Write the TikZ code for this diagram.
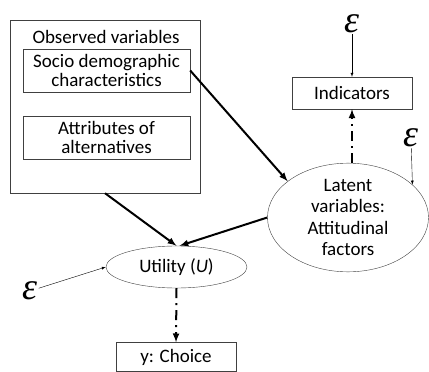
\documentclass[tikz,border=0pt]{standalone}
\usepackage{fontspec}
\setmainfont{Carlito}
\newfontfamily\epsfont{Liberation Serif}
\usepackage{amsmath}
\usetikzlibrary{shapes.geometric}

\begin{document}
\begin{tikzpicture}[x=1pt,y=-1pt,>=latex,
        box/.style={draw=black!75,thin,inner sep=0pt,align=center,font=\fontsize{19}{19.5}\selectfont},
        eps/.style={inner sep=1pt,font=\fontsize{38}{38}\epsfont\itshape},
        link/.style={->,line width=2pt},
        dashdot/.style={->,line width=2pt,dash pattern=on 10pt off 5pt on 2pt off 5pt}]
        \useasboundingbox (0,0) rectangle (429,372);

        % observed variables
        \node[box,minimum width=190,minimum height=173](obs) at (105,106.5){};
        \node[font=\fontsize{19}{20}\selectfont,inner sep=0pt](obslbl) at (106,37){Observed variables};
        \node[box,minimum width=167,minimum height=43](soc) at (106.5,70.5){Socio demographic\\characteristics};
        \node[box,minimum width=167,minimum height=43](att) at (106.5,137.5){Attributes of\\alternatives};

        % latent part
        \node[box,minimum width=120,minimum height=32](ind) at (352,93){Indicators};
        \node[draw=black!75,thin,ellipse,inner sep=0pt,minimum width=161,minimum height=99,
              align=center,font=\fontsize{19}{21.5}\selectfont](lat) at (348,217.5){Latent\\variables:\\Attitudinal\\factors};

        % utility and choice
        \node[draw=black!75,thin,ellipse,inner sep=0pt,minimum width=141,minimum height=42,
              font=\fontsize{19}{20}\selectfont](util) at (176.5,267){Utility (\textit{U})};
        \node[box,minimum width=120,minimum height=29](cho) at (176,357){y: Choice};

        % error terms
        \node[eps](e1) at (352,24){ε};
        \node[eps](e2) at (411,138){ε};
        \node[eps](e3) at (30,291){ε};

        \draw[->,thin](e1)--(ind.north);
        \draw[->,thin](e2)--(lat.27);
        \draw[->,thin](e3)--(util.west);

        \draw[link](soc.east)--(lat.149);
        \draw[link](obs.south)--(util.north);
        \draw[link](lat.west)--([xshift=3]util.north);

        \draw[dashdot](ind.south |- lat.north)--(ind.south);
        \draw[dashdot](util.south)--(cho.north);
    \end{tikzpicture}
\end{document}
